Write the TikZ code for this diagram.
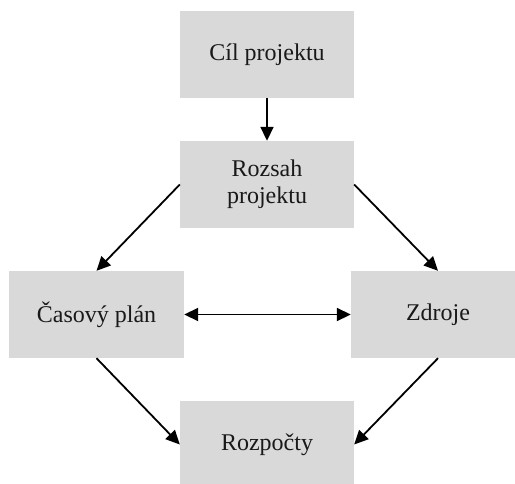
\documentclass[tikz,border=0pt]{standalone}
\usepackage{fontspec}
\setmainfont{Liberation Serif}
\usetikzlibrary{arrows.meta}
\definecolor{boxgray}{HTML}{D9D9D9}
\tikzset{
  box/.style={rectangle, fill=boxgray, draw=none, minimum width=174pt, minimum height=87pt, inner sep=0pt, align=center, font=\fontsize{24}{27}\selectfont, text=black!90},
  tip/.style={Triangle[length=14pt,width=13pt]},
  conn/.style={line width=1.8pt, -{Triangle[length=14pt,width=13pt]}},
  dconn/.style={line width=1.8pt, {Triangle[length=14pt,width=13pt]}-{Triangle[length=14pt,width=13pt]}}
}
\begin{document}
\begin{tikzpicture}[x=1pt,y=-1pt]
\useasboundingbox (0,0) rectangle (515,483);
\clip (0,0) rectangle (515,483);
\node[box] (cil) at (267,54.5) {Cíl projektu};
\node[box] (rozsah) at (267,184.5) {Rozsah\\projektu};
\node[box, minimum width=175pt] (casovy) at (96.5,314.5) {Časový plán};
\node[box] (zdroje) at (438,314.5) {Zdroje};
\node[box] (rozpocty) at (267,444.5) {Rozpočty};
\draw[conn] (cil) -- (rozsah);
\draw[conn] (rozsah.west) -- (casovy.north);
\draw[conn] (rozsah.east) -- (zdroje.north);
\draw[dconn] (casovy) -- (zdroje);
\draw[conn] (casovy.south) -- (rozpocty.west);
\draw[conn] (zdroje.south) -- (rozpocty.east);
\end{tikzpicture}
\end{document}
